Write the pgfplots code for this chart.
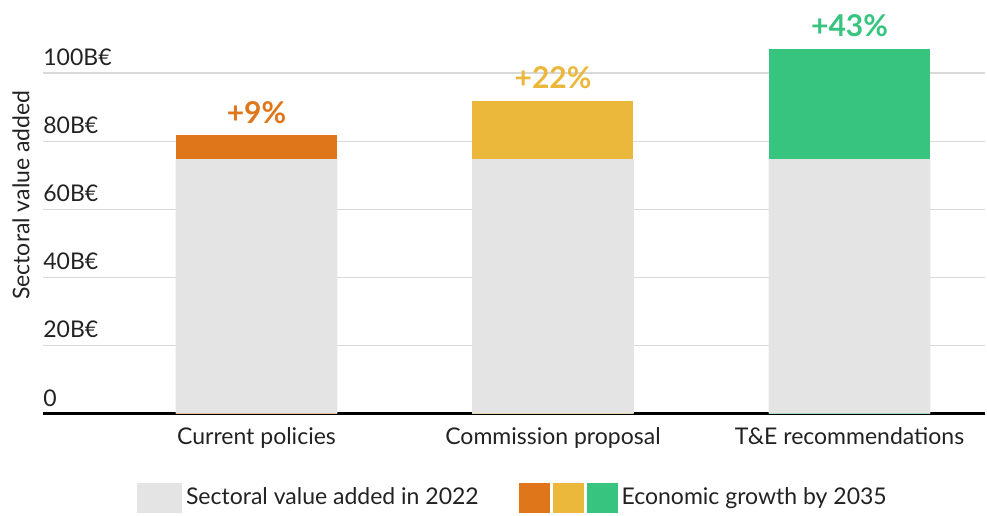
\documentclass[border=0pt]{standalone}
\usepackage{fontspec}
\setmainfont{Lato}
\usepackage{pgfplots}
\pgfplotsset{compat=1.18}
\definecolor{basegray}{HTML}{E4E4E4}
\definecolor{cporange}{HTML}{DF7619}
\definecolor{cpyellow}{HTML}{ECB83C}
\definecolor{cpgreen}{HTML}{36C47E}
\definecolor{gridgray}{HTML}{D9D9D9}
\definecolor{txt}{HTML}{222222}
\pgfplotsset{layers/gridbelow/.define layer set={axis background,axis grid,main,axis ticks,axis lines,axis tick labels,axis descriptions,axis foreground}{}}
\begin{document}
\begin{tikzpicture}[font=\fontsize{11.5}{13}\selectfont, text=txt]
\begin{axis}[set layers=gridbelow,
  scale only axis, width=471pt, height=187.25pt,
  xmin=-0.72, xmax=2.457, ymin=0, ymax=110,
  axis x line*=bottom, axis y line*=left,
  x axis line style={-, black, line width=1.3pt},
  y axis line style={draw=none},
  tick style={draw=none},
  ymajorgrids, grid style={gridgray, line width=0.6pt},
  ytick={0,20,40,60,80,100},
  yticklabels={0,20B€,40B€,60B€,80B€,100B€},
  yticklabel style={anchor=base west, inner sep=0pt, yshift=3.75pt, font=\fontsize{11.5}{13}\selectfont},
  xtick={0,1,2},
  xticklabels={Current policies,Commission proposal,T\&E recommendations},
  xticklabel style={anchor=north, inner sep=0pt, yshift=-7pt, font=\fontsize{11.5}{13}\selectfont},
  ylabel={Sectoral value added},
  ylabel style={at={(axis description cs:-0.0138,0.583)}, anchor=south, inner sep=0pt, font=\fontsize{11.5}{13}\selectfont},
  bar width=80.5pt, bar shift=0pt,
  clip=false,
  nodes near coords style={anchor=base, inner sep=0pt, yshift=6pt, font=\fontsize{15}{17}\selectfont\bfseries},
  legend style={draw=none, fill=none, at={(axis description cs:0.5,-0.2256)}, anchor=center,
    legend columns=2, /tikz/every even column/.append style={column sep=18pt},
    font=\fontsize{11.5}{13}\selectfont},
  legend cell align=left,
]
\addlegendimage{legend image code/.code={\fill[basegray] (0pt,-7.25pt) rectangle (22pt,7.25pt);}}
\addlegendentry{Sectoral value added in 2022}
\addlegendimage{legend image code/.code={\fill[cporange] (0pt,-7.25pt) rectangle (15pt,7.25pt);\fill[cpyellow] (17pt,-7.25pt) rectangle (32pt,7.25pt);\fill[cpgreen] (34pt,-7.25pt) rectangle (49pt,7.25pt);}}
\addlegendentry{Economic growth by 2035}
\addplot[ybar, fill=cporange, draw=none, forget plot, nodes near coords={+9\%}, nodes near coords style={cporange}] coordinates {(0,81.8)};
\addplot[ybar, fill=cpyellow, draw=none, forget plot, nodes near coords={+22\%}, nodes near coords style={cpyellow}] coordinates {(1,91.8)};
\addplot[ybar, fill=cpgreen, draw=none, forget plot, nodes near coords={+43\%}, nodes near coords style={cpgreen}] coordinates {(2,107.1)};
\addplot[ybar, bar width=80.8pt, fill=basegray, draw=none, forget plot] coordinates {(0,74.7) (1,74.7) (2,74.7)};
\end{axis}
\pgfresetboundingbox
\useasboundingbox (-21.5pt,-50.75pt) rectangle (472pt,206.75pt);
\end{tikzpicture}
\end{document}
